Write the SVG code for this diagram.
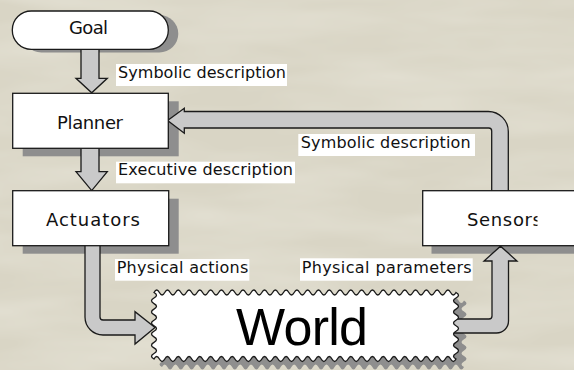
<svg xmlns="http://www.w3.org/2000/svg" width="574" height="370" viewBox="0 0 574 370">
  <defs>
    <style>
      .bg { fill: #d9d5c5; }
      .shadow { fill: #8e8e8e; }
      .box { fill: #ffffff; stroke: #1a1a1a; stroke-width: 1.3; }
      .arrow { fill: #c9c9c9; stroke: #1a1a1a; stroke-width: 1.3; stroke-linejoin: miter; }
      .node-text { font-family: "DejaVu Sans", "Liberation Sans", sans-serif; font-size: 18px; fill: #111111; }
      .label-bg { fill: #ffffff; }
      .label { font-family: "DejaVu Sans", "Liberation Sans", sans-serif; font-size: 16px; fill: #111111; }
      .world-text { font-family: "Liberation Sans", Arial, sans-serif; font-size: 52px; fill: #000000; }
    </style>
    <filter id="tex" x="0" y="0" width="100%" height="100%">
      <feTurbulence type="fractalNoise" baseFrequency="0.006 0.03" numOctaves="3" seed="7" result="n"/>
      <feColorMatrix in="n" type="matrix" values="0 0 0 0 1  0 0 0 0 1  0 0 0 0 0.95  0 0 0 0.45 -0.15"/>
    </filter>
    <path id="worldShape" d="M154,292.5 q2.696,-5 5.393,0 t5.393,0 t5.393,0 t5.393,0 t5.393,0 t5.393,0 t5.393,0 t5.393,0 t5.393,0 t5.393,0 t5.393,0 t5.393,0 t5.393,0 t5.393,0 t5.393,0 t5.393,0 t5.393,0 t5.393,0 t5.393,0 t5.393,0 t5.393,0 t5.393,0 t5.393,0 t5.393,0 t5.393,0 t5.393,0 t5.393,0 t5.393,0 t5.393,0 t5.393,0 t5.393,0 t5.393,0 t5.393,0 t5.393,0 t5.393,0 t5.393,0 t5.393,0 t5.393,0 t5.393,0 t5.393,0 t5.393,0 t5.393,0 t5.393,0 t5.393,0 t5.393,0 t5.393,0 t5.393,0 t5.393,0 t5.393,0 t5.393,0 t5.393,0 t5.393,0 t5.393,0 t5.393,0 t5.393,0 t5.393,0 q5,2.771 0,5.542 t0,5.542 t0,5.542 t0,5.542 t0,5.542 t0,5.542 t0,5.542 t0,5.542 t0,5.542 t0,5.542 t0,5.542 t0,5.542 q-2.696,5 -5.393,0 t-5.393,0 t-5.393,0 t-5.393,0 t-5.393,0 t-5.393,0 t-5.393,0 t-5.393,0 t-5.393,0 t-5.393,0 t-5.393,0 t-5.393,0 t-5.393,0 t-5.393,0 t-5.393,0 t-5.393,0 t-5.393,0 t-5.393,0 t-5.393,0 t-5.393,0 t-5.393,0 t-5.393,0 t-5.393,0 t-5.393,0 t-5.393,0 t-5.393,0 t-5.393,0 t-5.393,0 t-5.393,0 t-5.393,0 t-5.393,0 t-5.393,0 t-5.393,0 t-5.393,0 t-5.393,0 t-5.393,0 t-5.393,0 t-5.393,0 t-5.393,0 t-5.393,0 t-5.393,0 t-5.393,0 t-5.393,0 t-5.393,0 t-5.393,0 t-5.393,0 t-5.393,0 t-5.393,0 t-5.393,0 t-5.393,0 t-5.393,0 t-5.393,0 t-5.393,0 t-5.393,0 t-5.393,0 t-5.393,0 q-5,-2.771 0,-5.542 t0,-5.542 t0,-5.542 t0,-5.542 t0,-5.542 t0,-5.542 t0,-5.542 t0,-5.542 t0,-5.542 t0,-5.542 t0,-5.542 t0,-5.542 Z"/>
    <clipPath id="sensorsClip">
      <rect x="420" y="185" width="117.5" height="70"/>
    </clipPath>
  </defs>

  <!-- background -->
  <rect class="bg" x="0" y="0" width="574" height="370"/>
  <rect x="0" y="0" width="574" height="370" filter="url(#tex)"/>

  <!-- shadows -->
  <g id="shadows">
    <rect class="shadow" x="22.3" y="15" width="156" height="37.5" rx="19"/>
    <rect class="shadow" x="22.7" y="101.3" width="156" height="55"/>
    <rect class="shadow" x="22.7" y="198.7" width="156" height="55"/>
    <rect class="shadow" x="431.5" y="198.7" width="160" height="55"/>
    <use href="#worldShape" class="shadow" transform="translate(8,8)"/>
  </g>

  <!-- connectors -->
  <g id="connectors">
    <path class="arrow" d="M81,46 L99,46 L99,78.3 L107.3,78.3 L91.7,92.8 L76,78.3 L81,78.3 Z"/>
    <path class="arrow" d="M81,146 L99,146 L99,171.7 L107.3,171.7 L91.7,190.6 L76,171.7 L81,171.7 Z"/>
    <path class="arrow" d="M85,243 L100,243 L100,317 A3,3 0 0 0 103,320 L135,320 L135,311.7 L155,327.5 L135,344 L135,335 L103,335 A18,18 0 0 1 85,317 Z"/>
    <path class="arrow" d="M450,319 L489,319 A3,3 0 0 0 492,316 L492,261 L484,261 L500.5,246.2 L517,261 L508.5,261 L508.5,321 A12,12 0 0 1 496.5,333 L450,333 Z"/>
    <path class="arrow" d="M491.7,195 L491.7,131 A3,3 0 0 0 488.7,128 L184.3,128 L184.3,133.3 L167.6,120.5 L184.3,108.3 L184.3,111.5 L488.3,111.5 A20,20 0 0 1 508.3,131.5 L508.3,195 Z"/>
  </g>

  <!-- labels -->
  <g id="labels">
    <rect class="label-bg" x="116" y="64" width="171" height="22"/>
    <text class="label" x="118" y="78.3" textLength="168">Symbolic description</text>
    <rect class="label-bg" x="116" y="161.7" width="179" height="21.6"/>
    <text class="label" x="118" y="175" textLength="175">Executive description</text>
    <rect class="label-bg" x="298.3" y="134" width="176.7" height="22"/>
    <text class="label" x="300.7" y="148.3" textLength="170">Symbolic description</text>
    <rect class="label-bg" x="115" y="259" width="134.3" height="21.7"/>
    <text class="label" x="116.7" y="273.3" textLength="131.6">Physical actions</text>
    <rect class="label-bg" x="300" y="258.3" width="172.7" height="22.4"/>
    <text class="label" x="301.7" y="273.3" textLength="170">Physical parameters</text>
  </g>

  <!-- nodes -->
  <g id="goal">
    <rect class="box" x="12.3" y="11" width="156" height="38.3" rx="19"/>
    <text class="node-text" x="69" y="34.3" textLength="39">Goal</text>
  </g>
  <g id="planner">
    <rect class="box" x="12.7" y="93.3" width="155.6" height="55"/>
    <text class="node-text" x="57" y="129.3" textLength="66">Planner</text>
  </g>
  <g id="actuators">
    <rect class="box" x="12.7" y="190.7" width="156" height="55"/>
    <text class="node-text" x="46" y="225.7" textLength="94">Actuators</text>
  </g>
  <g id="sensors">
    <rect class="box" x="422.7" y="190.7" width="160" height="55"/>
    <text class="node-text" x="467" y="225.7" textLength="75" clip-path="url(#sensorsClip)">Sensors</text>
  </g>
  <g id="world">
    <use href="#worldShape" class="box"/>
    <text class="world-text" x="236" y="345" textLength="132">World</text>
  </g>
</svg>
